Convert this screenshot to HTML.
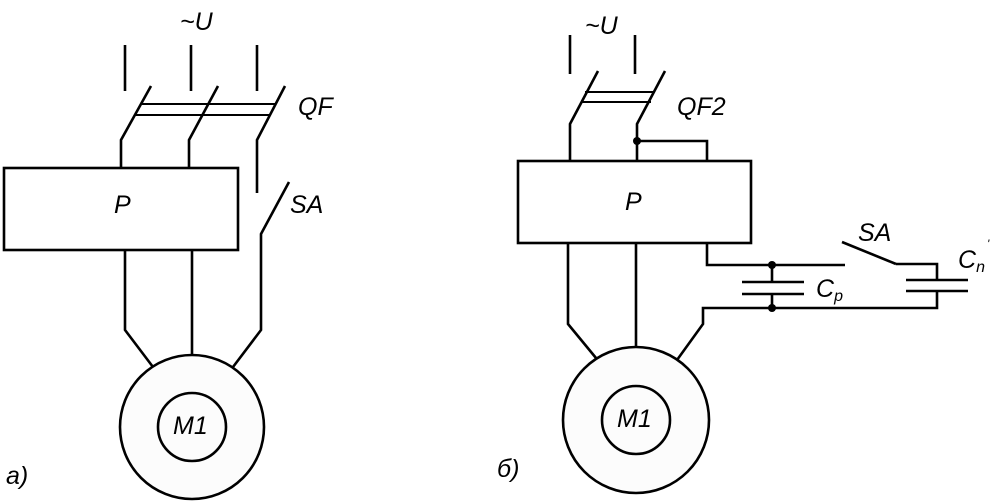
<!DOCTYPE html>
<html><head><meta charset="utf-8"><style>
html,body{margin:0;padding:0;background:#fff;width:994px;height:503px;overflow:hidden}
svg text{font-family:"Liberation Sans",sans-serif;font-style:italic;fill:#000}
</style></head><body>
<svg width="994" height="503" viewBox="0 0 994 503" xmlns="http://www.w3.org/2000/svg">
<g stroke="#000" stroke-width="2.6" fill="none" stroke-linejoin="miter">
<!-- LEFT -->
<line x1="125" y1="45" x2="125" y2="91"/>
<line x1="191" y1="45" x2="191" y2="91"/>
<line x1="257" y1="45" x2="257" y2="91"/>
<polyline points="151,86 121,140 121,168"/>
<polyline points="218,86 189,140 189,168"/>
<polyline points="285,86 257,140 257,193"/>
<line x1="142" y1="104" x2="276" y2="104" stroke-width="2"/>
<line x1="135" y1="115" x2="271" y2="115" stroke-width="2"/>
<rect x="4" y="168" width="234" height="82"/>
<polyline points="289,182 261,234 261,330 233,367"/>
<polyline points="125,250 125,330 153,367"/>
<line x1="192" y1="250" x2="192" y2="355"/>
<circle cx="192" cy="427" r="72" fill="#fcfcfc"/>
<circle cx="192" cy="427" r="34" fill="#fcfcfc"/>
<!-- RIGHT -->
<line x1="570" y1="35" x2="570" y2="74"/>
<line x1="635" y1="35" x2="635" y2="74"/>
<polyline points="598,71 570,124 570,161"/>
<polyline points="665,71 637,124 637,161"/>
<line x1="585" y1="92" x2="655" y2="92" stroke-width="2"/>
<line x1="581" y1="102" x2="651" y2="102" stroke-width="2"/>
<polyline points="637,141 707,141 707,161"/>
<rect x="518" y="161" width="233" height="82"/>
<polyline points="707,243 707,265 845,265"/>
<line x1="772" y1="265" x2="772" y2="282"/>
<line x1="772" y1="294" x2="772" y2="308"/>
<line x1="742" y1="282" x2="804" y2="282"/>
<line x1="742" y1="294" x2="804" y2="294"/>
<polyline points="677,360 703,324 703,308 937,308 937,291"/>
<line x1="842" y1="242" x2="896" y2="264"/>
<polyline points="896,264 937,264 937,280"/>
<line x1="906" y1="280" x2="968" y2="280"/>
<line x1="906" y1="291" x2="968" y2="291"/>
<polyline points="568,243 568,324 596,358"/>
<line x1="636" y1="243" x2="636" y2="347"/>
<circle cx="636" cy="420" r="73" fill="#fcfcfc"/>
<circle cx="636" cy="420" r="34" fill="#fcfcfc"/>
</g>
<g fill="#000">
<circle cx="637" cy="141" r="4"/>
<circle cx="772" cy="265" r="4"/>
<circle cx="772" cy="308" r="4"/>
</g>
<g font-size="25">
<text x="180" y="30">~U</text>
<text x="298" y="115">QF</text>
<text x="290" y="213">SA</text>
<text x="114" y="213">P</text>
<text x="173" y="434">M1</text>
<text x="6" y="484">a)</text>
<text x="585" y="34">~U</text>
<text x="677" y="115">QF2</text>
<text x="625" y="210">P</text>
<text x="858" y="241">SA</text>
<text x="816" y="297">C<tspan font-size="16" dy="4">p</tspan></text>
<text x="958" y="268">C<tspan font-size="16" dy="4">n</tspan></text>
<text x="987" y="248" font-size="12">'</text>
<text x="617" y="427">M1</text>
<text x="497" y="477">б)</text>
</g>
</svg>
</body></html>
